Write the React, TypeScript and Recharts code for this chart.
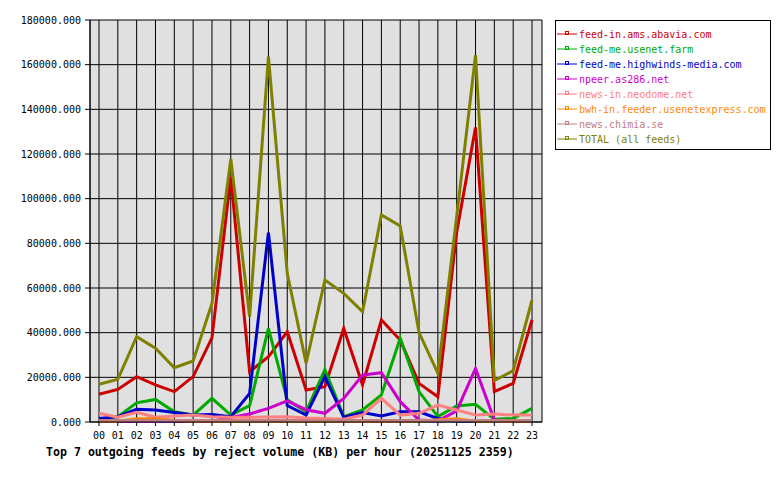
import { LineChart, Line, XAxis, YAxis, CartesianGrid } from 'recharts';

const hours = ['00', '01', '02', '03', '04', '05', '06', '07', '08', '09', '10', '11', '12', '13', '14', '15', '16', '17', '18', '19', '20', '21', '22', '23'];

const abavia = [12400, 14600, 20300, 16600, 13600, 20300, 37700, 109800, 22500, 29200, 40400, 14300, 15800, 41900, 16600, 45700, 36700, 17300, 11300, 85000, 131900, 13600, 17300, 45700];
const usenetFarm = [1200, 2400, 8600, 10100, 4600, 3100, 10600, 3100, 7300, 41900, 9900, 4600, 23500, 2400, 5400, 12100, 37500, 13600, 2400, 7200, 7900, 1200, 1600, 6100];
const highwinds = [1600, 2400, 5700, 5400, 4300, 3100, 3400, 2400, 12800, 84800, 7400, 3100, 20300, 2100, 4200, 2700, 4600, 4600, 1600, 500, 400, 600, 500, 500];
const as286 = [300, 300, 300, 300, 300, 300, 300, 2000, 3600, 6100, 9500, 5500, 3900, 10600, 21000, 22100, 9100, 900, 500, 5000, 24000, 900, 500, 500];
const neodome = [3900, 2100, 4300, 2100, 2700, 3100, 2400, 2100, 2100, 2200, 2300, 1800, 1600, 1200, 3100, 10600, 3100, 3900, 7600, 5400, 3100, 3600, 3100, 3100];
const usenetexpress = [300, 300, 1500, 1500, 800, 300, 300, 300, 300, 300, 300, 300, 300, 300, 300, 300, 300, 300, 1000, 1500, 300, 300, 300, 300];
const chimia = [700, 700, 700, 700, 700, 700, 700, 700, 700, 700, 700, 700, 700, 700, 700, 700, 700, 700, 700, 700, 700, 700, 700, 700];
const total = [16900, 19100, 38200, 33000, 24300, 27300, 53100, 117800, 47200, 163600, 66600, 26300, 63600, 57600, 49400, 92700, 87800, 40000, 21800, 92000, 164300, 18500, 23000, 54600];

const yTicks = [0, 20000, 40000, 60000, 80000, 100000, 120000, 140000, 160000, 180000];

const series = [
  { key: 'abavia', name: 'feed-in.ams.abavia.com', color: '#cc0000', values: abavia },
  { key: 'usenetFarm', name: 'feed-me.usenet.farm', color: '#00aa00', values: usenetFarm },
  { key: 'highwinds', name: 'feed-me.highwinds-media.com', color: '#0000cc', values: highwinds },
  { key: 'as286', name: 'npeer.as286.net', color: '#cc00cc', values: as286 },
  { key: 'neodome', name: 'news-in.neodome.net', color: '#ff8080', values: neodome },
  { key: 'usenetexpress', name: 'bwh-in.feeder.usenetexpress.com', color: '#ff8800', values: usenetexpress },
  { key: 'chimia', name: 'news.chimia.se', color: '#c08080', values: chimia },
  { key: 'total', name: 'TOTAL (all feeds)', color: '#808000', values: total },
];

const data = hours.map((hour, i) => {
  const row: Record<string, string | number> = { hour };
  series.forEach((s) => {
    row[s.key] = s.values[i];
  });
  return row;
});

const mono = '"DejaVu Sans Mono", monospace';

const FeedLegend = () => (
  <div
    style={{
      position: 'absolute',
      left: 555,
      top: 20,
      width: 214,
      height: 128,
      border: '1px solid #000',
      background: '#fff',
      fontFamily: mono,
      fontSize: 10,
    }}
  >
    {series.map((s, i) => (
      <div key={s.key} style={{ position: 'absolute', left: 0, top: 6 + i * 15, height: 14, display: 'flex', alignItems: 'center' }}>
        <svg width={23} height={14}>
          <line x1={1} y1={7} x2={21} y2={7} stroke={s.color} strokeWidth={1} />
          <rect x={9.5} y={4.5} width={3} height={3} fill="none" stroke={s.color} strokeWidth={1} />
        </svg>
        <span style={{ color: s.color, whiteSpace: 'pre' }}>{s.name}</span>
      </div>
    ))}
  </div>
);

const App = () => {
  return (
    <div style={{ position: 'absolute', left: 0, top: 0, width: 780, height: 480, background: '#fff' }}>
      <LineChart width={780} height={480} data={data} margin={{ top: 20, right: 238, bottom: 28, left: 0 }}>
        <CartesianGrid stroke="#000" strokeWidth={1} fill="#e0e0e0" fillOpacity={1} />
        <XAxis
          dataKey="hour"
          padding={{ left: 9, right: 10 }}
          height={30}
          tickSize={4}
          tickMargin={6}
          interval={0}
          stroke="#000"
          tick={{ fill: '#000', fontFamily: mono, fontSize: 10 }}
        />
        <YAxis
          domain={[0, 180000]}
          ticks={yTicks}
          width={90}
          tickSize={5}
          tickMargin={4}
          stroke="#000"
          tickFormatter={(v: number) => v.toFixed(3)}
          tick={{ fill: '#000', fontFamily: mono, fontSize: 10 }}
        />
        <YAxis yAxisId="edge" orientation="right" width={0} tick={false} tickLine={false} stroke="#000" />
        {series.map((s) => (
          <Line
            key={s.key}
            type="linear"
            dataKey={s.key}
            name={s.name}
            stroke={s.color}
            strokeWidth={3}
            dot={false}
            activeDot={false}
            isAnimationActive={false}
          />
        ))}
      </LineChart>
      <FeedLegend />
      <div
        style={{
          position: 'absolute',
          left: 46,
          top: 445,
          fontFamily: mono,
          fontWeight: 'bold',
          fontSize: 11.6,
          color: '#000',
          whiteSpace: 'pre',
        }}
      >
        Top 7 outgoing feeds by reject volume (KB) per hour (20251125 2359)
      </div>
    </div>
  );
};

export default App;
